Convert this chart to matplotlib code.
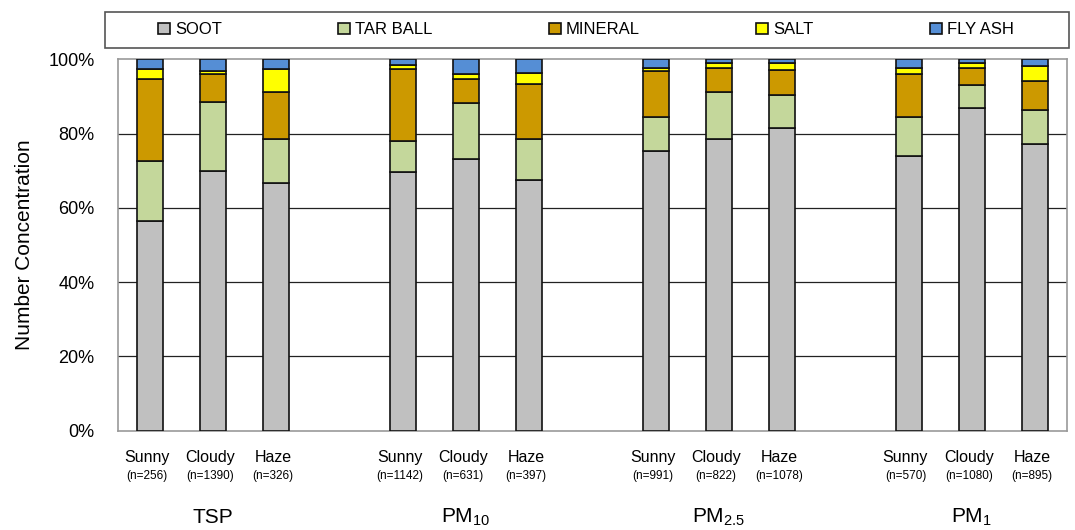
import numpy as np
import matplotlib
matplotlib.use('Agg')
from matplotlib import pyplot as plt
from matplotlib.patches import Rectangle

plt.rcParams['font.family'] = ['Liberation Sans', 'DejaVu Sans']
plt.rcParams['mathtext.default'] = 'regular'

groups = ['TSP', 'PM$_{10}$', 'PM$_{2.5}$', 'PM$_{1}$']
weather = ['Sunny', 'Cloudy', 'Haze']
counts = ['(n=256)', '(n=1390)', '(n=326)',
          '(n=1142)', '(n=631)', '(n=397)',
          '(n=991)', '(n=822)', '(n=1078)',
          '(n=570)', '(n=1080)', '(n=895)']

# percent of particles per type, bars ordered TSP, PM10, PM2.5, PM1 x Sunny/Cloudy/Haze
soot = [56.5, 70.0, 66.6, 69.7, 73.2, 67.5, 75.4, 78.5, 81.5, 74.0, 86.8, 77.1]
tar_ball = [16.2, 18.4, 11.9, 8.4, 15.0, 11.0, 9.2, 12.7, 8.8, 10.6, 6.2, 9.3]
mineral = [22.0, 7.7, 12.6, 19.2, 6.4, 14.9, 12.3, 6.6, 6.7, 11.5, 4.8, 7.9]
salt = [2.6, 0.7, 6.3, 1.2, 1.4, 3.0, 0.7, 1.1, 2.1, 1.7, 1.3, 4.0]
fly_ash = [2.7, 3.2, 2.6, 1.5, 4.0, 3.6, 2.4, 1.1, 0.9, 2.2, 0.9, 1.7]

series = [('SOOT', soot, '#C0C0C0'),
          ('TAR BALL', tar_ball, '#C4D79B'),
          ('MINERAL', mineral, '#CC9900'),
          ('SALT', salt, '#FFFF00'),
          ('FLY ASH', fly_ash, '#558ED5')]

x = np.array([g * 4 + i for g in range(4) for i in range(3)])

fig = plt.figure(figsize=(10.75, 5.3), dpi=100)
ax = fig.add_axes([0.1098, 0.1874, 0.8825, 0.7006])

bottom = np.zeros(len(x))
handles = []
for name, vals, col in series:
    vals = np.array(vals)
    b = ax.bar(x, vals, 0.41, bottom=bottom, color=col, edgecolor='#111111',
               linewidth=1.2, label=name, zorder=3)
    handles.append(b)
    bottom += vals

ax.set_xlim(-0.5, 14.5)
ax.set_ylim(0, 100)
ax.set_yticks(np.arange(0, 101, 20))
ax.set_yticklabels([f'{v}%' for v in range(0, 101, 20)], fontsize=13)
ax.tick_params(axis='y', length=0, pad=17)
ax.set_xticks([])
for v in range(20, 100, 20):
    ax.axhline(v, color='#222222', linewidth=0.9, zorder=1)
for s in ax.spines.values():
    s.set_color('#999999')
    s.set_linewidth(1.2)
ax.set_ylabel('Number Concentration', fontsize=15, labelpad=10)

trans = ax.get_xaxis_transform()
for i, xi in enumerate(x):
    ax.text(xi - 0.05, -0.071, weather[i % 3], transform=trans, ha='center',
            va='center', fontsize=11.5)
    ax.text(xi - 0.05, -0.122, counts[i], transform=trans, ha='center',
            va='center', fontsize=8.5)
for g, name in enumerate(groups):
    ax.text(g * 4 + 1, -0.233, name, transform=trans, ha='center',
            va='center', fontsize=15)

# legend box spans the plot width, entries centred inside it
fig.patches.append(Rectangle((0.098, 0.910), 0.896, 0.067, transform=fig.transFigure,
                             facecolor='white', edgecolor='#555555', linewidth=1.2))
fig.legend(handles=handles, loc='center', bbox_to_anchor=(0.545, 0.944),
           ncol=5, fontsize=12, frameon=False, columnspacing=7.0,
           handlelength=0.7, handleheight=0.7, handletextpad=0.3,
           borderaxespad=0, borderpad=0)

fig.savefig('out.png', dpi=100)
